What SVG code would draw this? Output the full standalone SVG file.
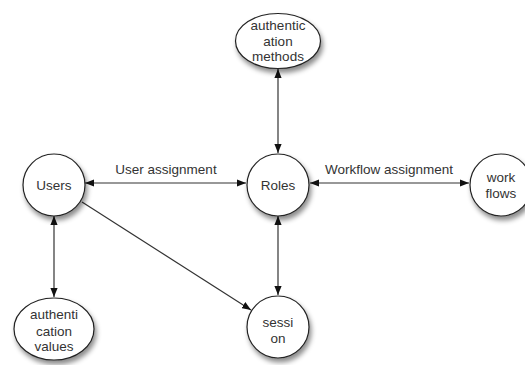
<svg xmlns="http://www.w3.org/2000/svg" width="525" height="365" viewBox="0 0 525 365">
  <style>
    .node { fill: #ffffff; stroke: #222222; stroke-width: 1.2; filter: url(#shadow); }
    .lbl { font-family: "Liberation Sans", Arial, sans-serif; font-size: 13.5px; fill: #333333; text-anchor: middle; }
    .edge { stroke: #333333; stroke-width: 1.2; fill: none; }
  </style>
  <defs>
    <filter id="shadow" x="-30%" y="-30%" width="170%" height="170%">
      <feDropShadow dx="2" dy="4" stdDeviation="2.5" flood-color="#000000" flood-opacity="0.45"/>
    </filter>
    <marker id="arrow" viewBox="0 0 10 8" refX="10" refY="4" markerWidth="9" markerHeight="7.5" markerUnits="userSpaceOnUse" orient="auto-start-reverse">
      <path d="M0,0 L10,4 L0,8 Z" fill="#111111"/>
    </marker>
  </defs>
  <rect width="525" height="365" fill="#ffffff"/>

  <g id="connectors">
    <line class="edge" x1="278" y1="69" x2="278" y2="153" marker-start="url(#arrow)" marker-end="url(#arrow)"/>
    <line class="edge" x1="85" y1="183" x2="246" y2="183" marker-start="url(#arrow)" marker-end="url(#arrow)"/>
    <line class="edge" x1="310" y1="183" x2="469" y2="183" marker-start="url(#arrow)" marker-end="url(#arrow)"/>
    <line class="edge" x1="54" y1="216" x2="54" y2="297" marker-start="url(#arrow)" marker-end="url(#arrow)"/>
    <line class="edge" x1="278" y1="216" x2="278" y2="295" marker-start="url(#arrow)" marker-end="url(#arrow)"/>
    <line class="edge" x1="82" y1="202" x2="251" y2="310" marker-end="url(#arrow)"/>
    <text class="lbl" x="166" y="174">User assignment</text>
    <text class="lbl" x="389" y="174">Workflow assignment</text>
  </g>

  <g id="auth-methods">
    <ellipse class="node" cx="278" cy="41" rx="42.5" ry="27.5"/>
    <text class="lbl" x="278" y="30">authentic</text>
    <text class="lbl" x="278" y="45.5">ation</text>
    <text class="lbl" x="278" y="61">methods</text>
  </g>

  <g id="users">
    <circle class="node" cx="54" cy="185" r="31"/>
    <text class="lbl" x="54" y="190">Users</text>
  </g>

  <g id="roles">
    <circle class="node" cx="278" cy="185" r="31"/>
    <text class="lbl" x="278" y="190">Roles</text>
  </g>

  <g id="workflows">
    <circle class="node" cx="501" cy="185" r="31"/>
    <text class="lbl" x="501" y="182">work</text>
    <text class="lbl" x="501" y="198">flows</text>
  </g>

  <g id="auth-values">
    <ellipse class="node" cx="54" cy="329" rx="40" ry="31"/>
    <text class="lbl" x="54" y="319">authenti</text>
    <text class="lbl" x="54" y="335.5">cation</text>
    <text class="lbl" x="54" y="351">values</text>
  </g>

  <g id="session">
    <circle class="node" cx="278" cy="327" r="31"/>
    <text class="lbl" x="278" y="327">sessi</text>
    <text class="lbl" x="278" y="343">on</text>
  </g>
</svg>
